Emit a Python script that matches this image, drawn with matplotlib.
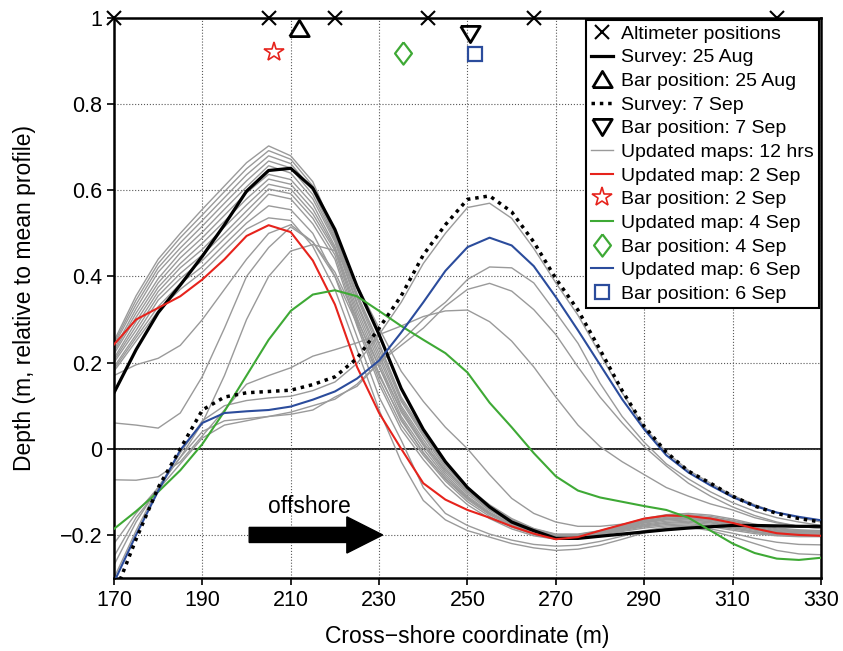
import matplotlib
matplotlib.use("Agg")
from matplotlib import pyplot as plt

plt.rcParams["font.family"] = ["Liberation Sans", "DejaVu Sans"]

# cross-shore grid (m), 5 m spacing
cross_shore = list(range(170, 331, 5))

survey_aug25 = [0.13, 0.23, 0.316, 0.38, 0.447, 0.52, 0.598, 0.646, 0.651, 0.605, 0.509, 0.377, 0.265,
                0.14, 0.045, -0.03, -0.09, -0.135, -0.17, -0.19, -0.208, -0.208, -0.203, -0.198, -0.193,
                -0.188, -0.184, -0.181, -0.178, -0.178, -0.179, -0.18, -0.18]
survey_sep7 = [-0.34, -0.21, -0.09, 0.0, 0.09, 0.12, 0.13, 0.133, 0.136, 0.149, 0.167, 0.21, 0.28,
               0.355, 0.45, 0.52, 0.579, 0.587, 0.55, 0.48, 0.395, 0.322, 0.23, 0.135, 0.052, -0.008,
               -0.052, -0.08, -0.11, -0.133, -0.15, -0.162, -0.17]
map_sep2 = [0.242, 0.30, 0.327, 0.354, 0.393, 0.44, 0.494, 0.519, 0.503, 0.437, 0.335, 0.19, 0.083,
            0.0, -0.08, -0.118, -0.142, -0.16, -0.18, -0.197, -0.21, -0.205, -0.19, -0.176, -0.162,
            -0.155, -0.156, -0.162, -0.172, -0.185, -0.196, -0.2, -0.202]
map_sep4 = [-0.186, -0.145, -0.10, -0.05, 0.011, 0.087, 0.17, 0.253, 0.32, 0.358, 0.368, 0.354, 0.32,
            0.285, 0.253, 0.222, 0.177, 0.107, 0.05, -0.01, -0.064, -0.097, -0.113, -0.123, -0.133,
            -0.142, -0.16, -0.19, -0.22, -0.242, -0.255, -0.258, -0.253]
map_sep6 = [-0.31, -0.20, -0.098, -0.003, 0.06, 0.083, 0.087, 0.09, 0.098, 0.114, 0.133, 0.163, 0.205,
            0.27, 0.34, 0.413, 0.468, 0.49, 0.472, 0.424, 0.352, 0.275, 0.195, 0.115, 0.045, -0.015,
            -0.055, -0.085, -0.112, -0.133, -0.148, -0.158, -0.166]

# updated maps every 12 hrs (grey)
gm01 = [0.25, 0.355, 0.44, 0.50, 0.556, 0.61, 0.664, 0.703, 0.68, 0.62, 0.50, 0.36, 0.245, 0.12, 0.04,
        -0.035, -0.09, -0.13, -0.162, -0.185, -0.198, -0.198, -0.19, -0.176, -0.162, -0.153, -0.15,
        -0.154, -0.163, -0.175, -0.184, -0.188, -0.19]
gm02 = [0.245, 0.345, 0.43, 0.49, 0.543, 0.597, 0.65, 0.692, 0.672, 0.61, 0.495, 0.355, 0.24, 0.115,
        0.035, -0.04, -0.093, -0.133, -0.164, -0.186, -0.199, -0.199, -0.191, -0.178, -0.165, -0.156,
        -0.153, -0.157, -0.166, -0.177, -0.186, -0.19, -0.191]
gm03 = [0.24, 0.335, 0.42, 0.478, 0.53, 0.583, 0.636, 0.68, 0.662, 0.60, 0.49, 0.35, 0.23, 0.11, 0.03,
        -0.045, -0.097, -0.136, -0.166, -0.188, -0.2, -0.2, -0.192, -0.18, -0.167, -0.159, -0.156,
        -0.16, -0.168, -0.179, -0.188, -0.192, -0.193]
gm04 = [0.23, 0.325, 0.41, 0.466, 0.517, 0.57, 0.622, 0.668, 0.652, 0.59, 0.485, 0.34, 0.22, 0.10,
        0.022, -0.05, -0.10, -0.14, -0.169, -0.19, -0.201, -0.2, -0.193, -0.181, -0.17, -0.162, -0.159,
        -0.163, -0.171, -0.182, -0.19, -0.193, -0.194]
gm05 = [0.225, 0.315, 0.395, 0.455, 0.503, 0.556, 0.608, 0.657, 0.64, 0.58, 0.48, 0.335, 0.21, 0.095,
        0.015, -0.055, -0.105, -0.143, -0.171, -0.191, -0.203, -0.201, -0.194, -0.183, -0.172, -0.165,
        -0.162, -0.166, -0.174, -0.184, -0.192, -0.195, -0.196]
gm06 = [0.22, 0.305, 0.385, 0.443, 0.49, 0.542, 0.594, 0.637, 0.625, 0.568, 0.47, 0.325, 0.20, 0.085,
        0.008, -0.06, -0.11, -0.147, -0.174, -0.193, -0.204, -0.202, -0.195, -0.185, -0.175, -0.168,
        -0.165, -0.169, -0.177, -0.187, -0.194, -0.197, -0.198]
gm07 = [0.21, 0.295, 0.375, 0.43, 0.477, 0.528, 0.58, 0.626, 0.614, 0.556, 0.465, 0.315, 0.19, 0.075,
        0.0, -0.065, -0.113, -0.15, -0.176, -0.195, -0.205, -0.203, -0.196, -0.187, -0.177, -0.171,
        -0.168, -0.172, -0.18, -0.189, -0.196, -0.199, -0.199]
gm08 = [0.205, 0.285, 0.365, 0.42, 0.463, 0.515, 0.566, 0.614, 0.603, 0.545, 0.46, 0.305, 0.175, 0.065,
        -0.008, -0.07, -0.118, -0.153, -0.179, -0.197, -0.207, -0.204, -0.197, -0.188, -0.179, -0.173,
        -0.171, -0.175, -0.183, -0.192, -0.198, -0.2, -0.201]
gm09 = [0.20, 0.275, 0.355, 0.407, 0.45, 0.50, 0.552, 0.603, 0.592, 0.535, 0.45, 0.295, 0.16, 0.055,
        -0.015, -0.075, -0.123, -0.157, -0.182, -0.199, -0.208, -0.205, -0.198, -0.19, -0.181, -0.176,
        -0.174, -0.178, -0.186, -0.194, -0.2, -0.202, -0.202]
gm10 = [0.19, 0.265, 0.345, 0.395, 0.437, 0.488, 0.538, 0.591, 0.58, 0.522, 0.44, 0.285, 0.15, 0.045,
        -0.025, -0.085, -0.13, -0.162, -0.186, -0.202, -0.21, -0.207, -0.2, -0.192, -0.184, -0.179,
        -0.177, -0.181, -0.189, -0.197, -0.202, -0.204, -0.204]
gm11 = [0.185, 0.258, 0.33, 0.383, 0.423, 0.474, 0.524, 0.564, 0.555, 0.50, 0.40, 0.26, 0.12, 0.02,
        -0.09, -0.15, -0.178, -0.198, -0.212, -0.222, -0.226, -0.224, -0.215, -0.203, -0.19, -0.182,
        -0.18, -0.186, -0.196, -0.208, -0.217, -0.222, -0.223]
gm12 = [0.18, 0.25, 0.32, 0.37, 0.41, 0.46, 0.51, 0.536, 0.53, 0.47, 0.37, 0.23, 0.09, -0.03, -0.12,
        -0.165, -0.19, -0.205, -0.22, -0.23, -0.236, -0.233, -0.224, -0.21, -0.195, -0.185, -0.182,
        -0.19, -0.204, -0.22, -0.236, -0.244, -0.246]
gm13 = [0.17, 0.195, 0.21, 0.24, 0.30, 0.37, 0.44, 0.50, 0.52, 0.48, 0.40, 0.29, 0.17, 0.07, -0.01,
        -0.07, -0.115, -0.15, -0.175, -0.195, -0.205, -0.204, -0.197, -0.185, -0.172, -0.163, -0.16,
        -0.165, -0.175, -0.187, -0.195, -0.199, -0.2]
gm14 = [0.06, 0.055, 0.048, 0.083, 0.168, 0.28, 0.40, 0.467, 0.515, 0.48, 0.41, 0.30, 0.19, 0.09,
        0.01, -0.05, -0.10, -0.14, -0.17, -0.19, -0.202, -0.203, -0.196, -0.183, -0.17, -0.163, -0.163,
        -0.17, -0.182, -0.193, -0.2, -0.203, -0.203]
gm15 = [-0.22, -0.15, -0.09, -0.02, 0.06, 0.17, 0.30, 0.40, 0.459, 0.474, 0.46, 0.38, 0.28, 0.18, 0.11,
        0.05, 0.0, -0.06, -0.115, -0.15, -0.17, -0.18, -0.18, -0.175, -0.168, -0.162, -0.16, -0.165,
        -0.175, -0.186, -0.195, -0.2, -0.202]
gm16 = [-0.30, -0.19, -0.09, -0.01, 0.065, 0.10, 0.112, 0.118, 0.122, 0.135, 0.155, 0.198, 0.265, 0.34,
        0.43, 0.50, 0.56, 0.57, 0.535, 0.465, 0.385, 0.31, 0.22, 0.13, 0.05, -0.008, -0.05, -0.08,
        -0.108, -0.13, -0.148, -0.16, -0.17]
gm17 = [-0.27, -0.17, -0.09, -0.02, 0.04, 0.065, 0.07, 0.075, 0.08, 0.09, 0.12, 0.145, 0.20, 0.25,
        0.30, 0.34, 0.393, 0.422, 0.42, 0.385, 0.316, 0.245, 0.152, 0.075, 0.015, -0.035, -0.07, -0.10,
        -0.125, -0.145, -0.16, -0.17, -0.178]
gm18 = [-0.25, -0.16, -0.095, -0.035, 0.025, 0.055, 0.065, 0.075, 0.085, 0.10, 0.115, 0.15, 0.20, 0.24,
        0.28, 0.331, 0.37, 0.384, 0.366, 0.323, 0.265, 0.19, 0.12, 0.06, 0.005, -0.04, -0.08, -0.11,
        -0.135, -0.155, -0.17, -0.18, -0.185]
gm19 = [-0.072, -0.073, -0.065, -0.03, 0.03, 0.09, 0.15, 0.17, 0.188, 0.215, 0.23, 0.246, 0.265, 0.285,
        0.307, 0.32, 0.322, 0.295, 0.25, 0.19, 0.12, 0.055, 0.005, -0.03, -0.06, -0.09, -0.11, -0.128,
        -0.142, -0.16, -0.172, -0.18, -0.185]
updated_maps = [gm01, gm02, gm03, gm04, gm05, gm06, gm07, gm08, gm09, gm10,
                gm11, gm12, gm13, gm14, gm15, gm16, gm17, gm18, gm19]

altimeter_x = [170, 205, 220, 241, 265, 320]
bar_aug25 = (211.9, 0.977)
bar_sep7 = (250.5, 0.962)
bar_sep2 = (206.2, 0.922)
bar_sep4 = (235.3, 0.919)
bar_sep6 = (251.6, 0.917)

red = "#e6231c"
green = "#3ea935"
blue = "#2b4c9c"
grey = "#9a9a9a"

tri_up = [(-1.2, -1), (1.2, -1), (0, 1), (-1.2, -1)]
tri_down = [(-1.2, 1), (1.2, 1), (0, -1), (-1.2, 1)]
diamond = [(0, 1), (0.76, 0), (0, -1), (-0.76, 0), (0, 1)]

fig = plt.figure(figsize=(8.43, 6.51), dpi=100)
ax = fig.add_axes([0.1352, 0.1121, 0.8387, 0.8603])

ax.axhline(0, color="k", lw=1.2, zorder=1)

grey_lines = []
for m in updated_maps:
    ln, = ax.plot(cross_shore, m, color=grey, lw=1.0, zorder=2)
    grey_lines.append(ln)
h_grey = grey_lines[0]
h_grey.set_label("Updated maps: 12 hrs")

h_aug, = ax.plot(cross_shore, survey_aug25, color="k", lw=2.3, zorder=3, label="Survey: 25 Aug")
h_red, = ax.plot(cross_shore, map_sep2, color=red, lw=1.5, zorder=4, label="Updated map: 2 Sep")
h_green, = ax.plot(cross_shore, map_sep4, color=green, lw=1.5, zorder=4, label="Updated map: 4 Sep")
h_blue, = ax.plot(cross_shore, map_sep6, color=blue, lw=1.5, zorder=4, label="Updated map: 6 Sep")
h_sep7, = ax.plot(cross_shore, survey_sep7, color="k", lw=2.5, ls=(0, (1, 1.4)),
                  dash_capstyle="butt", zorder=5, label="Survey: 7 Sep")

h_alt, = ax.plot(altimeter_x, [1] * len(altimeter_x), ls="none", marker="x", ms=10, mew=1.5,
                 color="k", clip_on=False, zorder=6, label="Altimeter positions")
h_b25, = ax.plot(*bar_aug25, ls="none", marker=tri_up, ms=14, mew=2.0, mfc="none", mec="k",
                 clip_on=False, zorder=6, label="Bar position: 25 Aug")
h_b7, = ax.plot(*bar_sep7, ls="none", marker=tri_down, ms=14, mew=2.0, mfc="none", mec="k",
                clip_on=False, zorder=6, label="Bar position: 7 Sep")
h_b2, = ax.plot(*bar_sep2, ls="none", marker="*", ms=15, mew=1.2, mfc="none", mec=red,
                zorder=6, label="Bar position: 2 Sep")
h_b4, = ax.plot(*bar_sep4, ls="none", marker=diamond, ms=16, mew=1.6, mfc="none", mec=green,
                zorder=6, label="Bar position: 4 Sep")
h_b6, = ax.plot(*bar_sep6, ls="none", marker="s", ms=9.5, mew=1.6, mfc="none", mec=blue,
                zorder=6, label="Bar position: 6 Sep")

# offshore arrow
ax.arrow(200.6, -0.2, 30.2, 0, width=0.035, head_width=0.084, head_length=8.1,
         length_includes_head=True, color="k", zorder=6)
ax.text(214.3, -0.135, "offshore", fontsize=16.5, ha="center", va="center")

ax.set_xlim(170, 330)
ax.set_ylim(-0.3, 1)
ax.set_xticks(range(170, 331, 20))
ax.set_yticks([-0.2, 0, 0.2, 0.4, 0.6, 0.8, 1])
ax.set_yticklabels(["\u22120.2", "0", "0.2", "0.4", "0.6", "0.8", "1"])
ax.tick_params(direction="out", length=5, width=1.2, labelsize=15.5)
ax.grid(True, ls=":", color="0.35", lw=0.8)
for s in ax.spines.values():
    s.set_linewidth(1.8)

ax.set_xlabel("Cross\u2212shore coordinate (m)", fontsize=16.5, labelpad=10)
ax.set_ylabel("Depth (m, relative to mean profile)", fontsize=16.5, labelpad=17)

handles = [h_alt, h_aug, h_b25, h_sep7, h_b7, h_grey, h_red, h_b2, h_green, h_b4, h_blue, h_b6]
leg = ax.legend(handles=handles, loc="upper right", fontsize=14, handlelength=1.15,
                handletextpad=0.4, labelspacing=0.31, borderpad=0.25, borderaxespad=0.12,
                fancybox=False, framealpha=1, edgecolor="k")
leg.get_frame().set_linewidth(1.5)
leg.set_zorder(10)

fig.savefig("out.png", dpi=100)
